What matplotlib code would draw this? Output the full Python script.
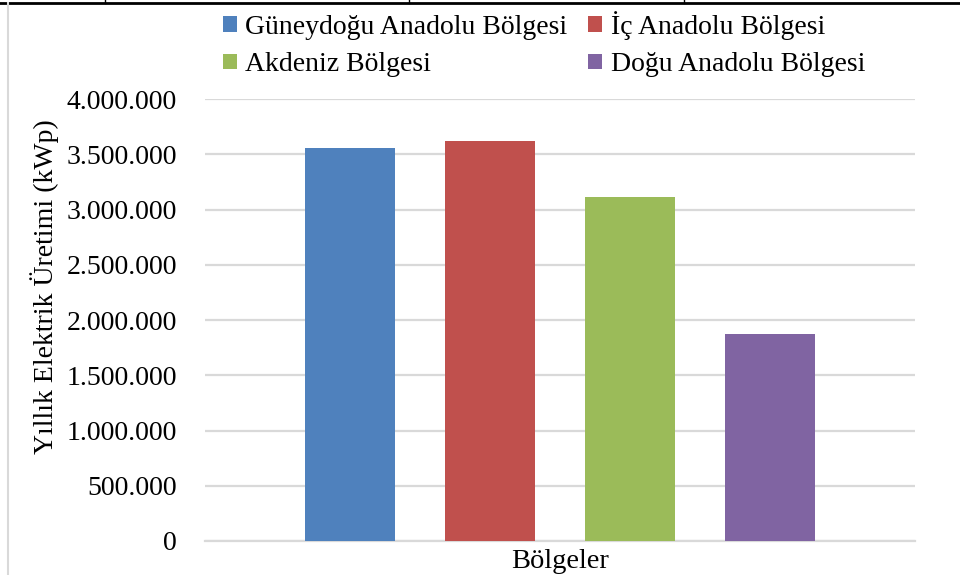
import matplotlib
matplotlib.use("Agg")
import matplotlib.pyplot as plt
from matplotlib.ticker import FuncFormatter

plt.rcParams['font.family'] = ['Liberation Serif', 'DejaVu Serif']

# Yearly electricity production per region
regions = ['Güneydoğu Anadolu Bölgesi', 'İç Anadolu Bölgesi',
           'Akdeniz Bölgesi', 'Doğu Anadolu Bölgesi']
production = [3556000, 3620000, 3113000, 1873000]
colors = ['#4F81BD', '#C0504D', '#9BBB59', '#8064A2']
y_ticks = [0, 500000, 1000000, 1500000, 2000000, 2500000, 3000000, 3500000, 4000000]

fig = plt.figure(figsize=(9.6, 5.75), dpi=100)
ax = fig.add_axes([205 / 960, 34 / 575, 710 / 960, 442 / 575])

# one category, four series side by side
step = 140 / 710
width = 90 / 710
bars = []
for i, (name, val, col) in enumerate(zip(regions, production, colors)):
    x = (i - 1.5) * step
    b = ax.bar(x, val, width=width, color=col, label=name, zorder=3)
    bars.append(b)

ax.set_xlim(-0.5, 0.5)
ax.set_ylim(0, 4000000)
ax.set_yticks(y_ticks)
ax.yaxis.set_major_formatter(FuncFormatter(lambda v, p: f'{int(v):,}'.replace(',', '.')))
ax.set_xticks([0])
ax.set_xticklabels(['Bölgeler'], fontsize=20.5)
ax.tick_params(axis='x', length=0, pad=6)
ax.tick_params(axis='y', length=0, pad=20, labelsize=20)
ax.grid(axis='y', color='#d9d9d9', linewidth=1.6, zorder=0)
for s in ['top', 'right', 'left']:
    ax.spines[s].set_visible(False)
ax.spines['bottom'].set_color('#d9d9d9')
ax.spines['bottom'].set_linewidth(1.6)

ax.set_ylabel('Yıllık Elektrik Üretimi (kWp)', fontsize=20)
ax.yaxis.set_label_coords(-0.205, 0.575)

# legend: two rows, ordered column-wise
order = [0, 2, 1, 3]
fig.legend([bars[i] for i in order], [regions[i] for i in order],
           ncol=2, loc='upper left', bbox_to_anchor=(223 / 960, 1 - 11 / 575),
           frameon=False, fontsize=20, borderpad=0, borderaxespad=0,
           handlelength=0.5, handleheight=0.5, handletextpad=0.3,
           columnspacing=0.75, labelspacing=0.45)

# frame remnants around the picture
fig.add_artist(plt.Line2D([0, 1], [1 - 3 / 575, 1 - 3 / 575], color='black', linewidth=2))
for xp in [105, 409, 684]:
    fig.add_artist(plt.Line2D([xp / 960, xp / 960], [1 - 3 / 575, 1], color='black', linewidth=1))
fig.add_artist(plt.Line2D([8 / 960, 8 / 960], [0, 1 - 3 / 575], color='#d9d9d9', linewidth=1.5))

fig.savefig('out.png', dpi=100)
